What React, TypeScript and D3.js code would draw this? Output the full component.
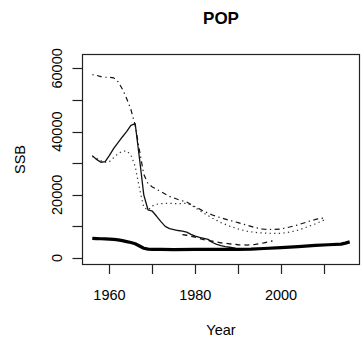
import React from "react";
import * as d3 from "d3";

const title = "POP";
const xLabel = "Year";
const yLabel = "SSB";
const xTicks = [1960, 1970, 1980, 1990, 2000, 2010];
const xTickLabels = [1960, 1980, 2000];
const yTicks = [0, 10000, 20000, 30000, 40000, 50000, 60000];
const yTickLabels = [0, 20000, 40000, 60000];

// thick solid
const thickYears = [1956, 1957, 1958, 1959, 1960, 1961, 1962, 1963, 1964, 1965, 1966, 1967, 1968, 1969, 1970, 1972, 1975, 1980, 1985, 1990, 1993, 1996, 2000, 2004, 2008, 2011, 2014, 2015, 2016];
const thickVals = [6200, 6150, 6100, 6050, 6000, 5900, 5750, 5500, 5200, 4900, 4500, 3800, 3100, 2800, 2750, 2700, 2650, 2700, 2700, 2700, 2800, 3000, 3300, 3600, 4000, 4200, 4400, 4700, 5100];

// thin solid
const solidYears = [1956, 1957, 1958, 1959, 1960, 1961, 1962, 1963, 1964, 1965, 1966, 1967, 1968, 1969, 1970, 1971, 1972, 1973, 1974, 1975, 1976, 1977, 1978, 1979, 1980, 1981, 1982, 1983, 1984, 1985, 1986, 1987, 1988, 1989, 1990];
const solidVals = [32400, 31200, 30300, 30500, 32500, 34700, 36500, 38300, 40000, 42000, 42500, 31500, 20000, 15200, 14800, 13200, 11500, 10000, 9300, 9000, 8700, 8500, 8200, 7500, 6900, 6500, 6200, 5900, 4900, 4300, 3900, 3600, 3400, 3200, 2700];

// dotted
const dottedYears = [1956, 1957, 1958, 1959, 1960, 1961, 1962, 1963, 1964, 1965, 1966, 1967, 1968, 1969, 1970, 1971, 1972, 1974, 1976, 1978, 1979, 1980, 1982, 1984, 1986, 1988, 1990, 1992, 1994, 1996, 1998, 2000, 2002, 2004, 2006, 2008, 2010];
const dottedVals = [32100, 31600, 30800, 30300, 30500, 31800, 33000, 33800, 33900, 32600, 29000, 22000, 16000, 15200, 16500, 17000, 17200, 17300, 17200, 17300, 16800, 15900, 14200, 12600, 11200, 10100, 9200, 8500, 8100, 7900, 7800, 7800, 8200, 8800, 9800, 10800, 12000];

// dot-dash
const dotDashYears = [1956, 1957, 1958, 1959, 1960, 1961, 1962, 1963, 1964, 1965, 1966, 1967, 1968, 1969, 1970, 1972, 1974, 1976, 1978, 1980, 1982, 1984, 1986, 1988, 1990, 1992, 1994, 1996, 1998, 2000, 2002, 2004, 2006, 2008, 2010];
const dotDashVals = [58000, 57800, 57400, 57200, 57200, 57000, 55800, 53500, 50500, 47000, 42000, 34000, 26500, 23500, 22500, 21000, 19500, 18500, 17700, 16200, 14800, 13600, 12700, 11900, 11200, 10400, 9600, 9100, 9000, 9200, 9800, 10500, 11400, 12200, 12700];

// dashed
const dashedYears = [1977, 1978, 1980, 1982, 1984, 1986, 1988, 1990, 1992, 1994, 1996, 1998];
const dashedVals = [7400, 7200, 6600, 5800, 5300, 4800, 4500, 4200, 4100, 4300, 4800, 5400];

const W = 362, H = 345;
const L = 82, R = 360, T = 54, B = 265;

export default function App() {
  const x = d3.scaleLinear().domain([1953.6, 2018.4]).range([L, R]);
  const y = d3.scaleLinear().domain([-2215, 64560]).range([B, T]);
  const line = (ys: number[], vs: number[]) =>
    d3.line<number>().x((_, i) => x(ys[i])).y((v) => y(v))(vs) || "";
  const font = "'Liberation Sans', Arial, Helvetica, sans-serif";
  const series = [
    { d: line(dotDashYears, dotDashVals), w: 1.2, dash: "1.3,3.5,5,3.5", c: "#111" },
    { d: line(dottedYears, dottedVals), w: 1.2, dash: "1.3,3.3", c: "#333" },
    { d: line(dashedYears, dashedVals), w: 1.3, dash: "5,4", c: "#111" },
    { d: line(solidYears, solidVals), w: 1.3, dash: undefined, c: "#111" },
    { d: line(thickYears, thickVals), w: 3.2, dash: undefined, c: "#000" },
  ];
  return (
    <svg width={W} height={H} style={{ position: "absolute", left: 0, top: 0 }} fontFamily={font}>
      <rect width={W} height={H} fill="#fff" />
      <text x={(L + R) / 2} y={23.5} textAnchor="middle" fontWeight="bold" fontSize={17}>{title}</text>
      {series.map((s, i) => (
        <path key={i} d={s.d} fill="none" stroke={s.c} strokeWidth={s.w} strokeDasharray={s.dash} strokeLinejoin="round" />
      ))}
      <rect x={L + 0.5} y={T + 0.5} width={R - L - 1} height={B - T - 1} fill="none" stroke="#222" strokeWidth={1.2} />
      {xTicks.map((t) => (
        <line key={t} x1={Math.round(x(t)) + 0.5} x2={Math.round(x(t)) + 0.5} y1={B} y2={B + 9} stroke="#222" strokeWidth={1.2} />
      ))}
      {xTickLabels.map((t) => (
        <text key={t} x={x(t)} y={299.5} textAnchor="middle" fontSize={14.5}>{t}</text>
      ))}
      {yTicks.map((t) => (
        <line key={t} x1={L - 9.5} x2={L} y1={Math.round(y(t)) + 0.5} y2={Math.round(y(t)) + 0.5} stroke="#222" strokeWidth={1.2} />
      ))}
      {yTickLabels.map((t) => (
        <text key={t} transform={`translate(61.5,${y(t)}) rotate(-90)`} textAnchor="middle" fontSize={14.5}>{t}</text>
      ))}
      <text x={(L + R) / 2} y={335} textAnchor="middle" fontSize={14.5}>{xLabel}</text>
      <text transform={`translate(25,${(T + B) / 2}) rotate(-90)`} textAnchor="middle" fontSize={14.5}>{yLabel}</text>
    </svg>
  );
}
